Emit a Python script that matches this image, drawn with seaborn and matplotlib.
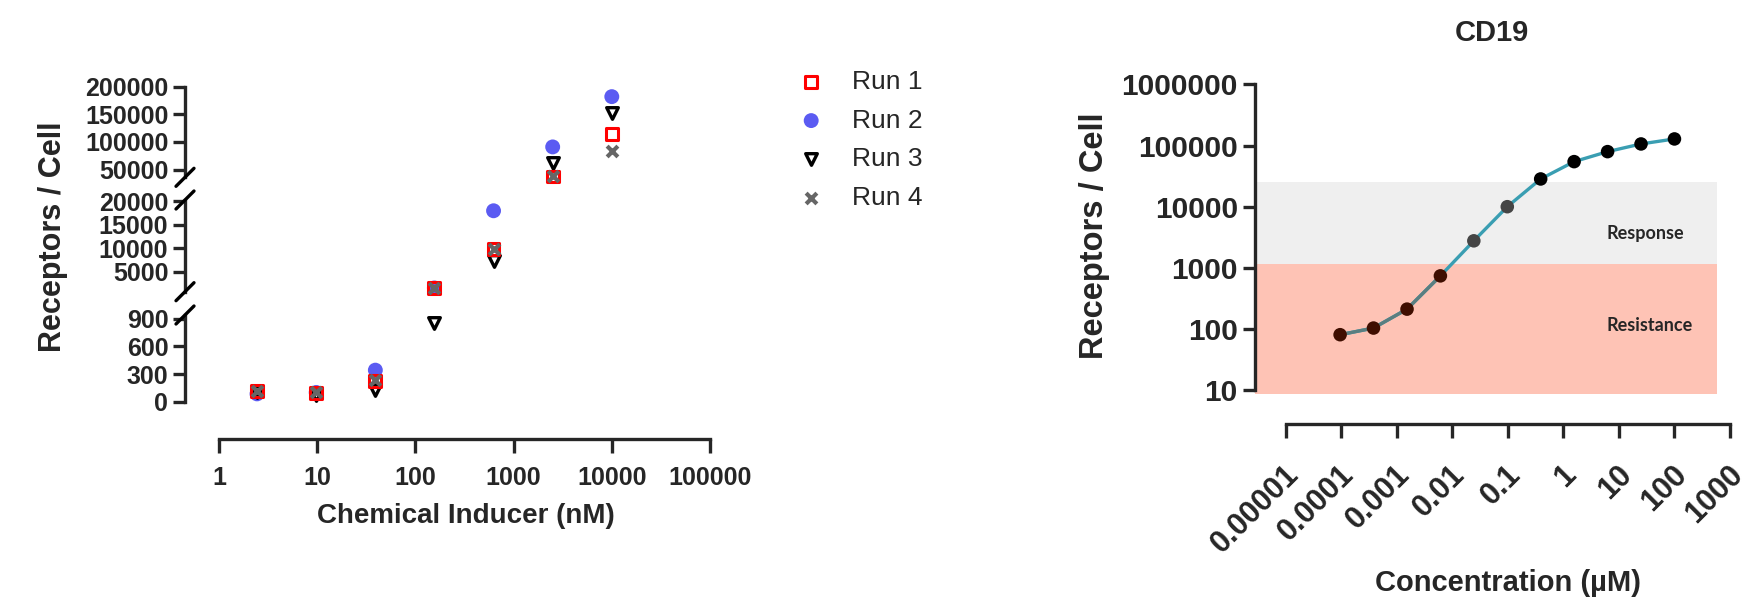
import matplotlib
matplotlib.use("Agg")
import matplotlib.pyplot as plt
from matplotlib.lines import Line2D
from matplotlib.ticker import NullLocator
from matplotlib.transforms import ScaledTranslation
import seaborn as sns
import pandas as pd

# ---- left panel: receptors per cell vs chemical inducer ----
inducer_nM = [2.44, 9.77, 39.1, 156, 625, 2500, 10000]
run1 = [115, 97, 227, 1440, 9800, 37600, 114000]
run2 = [85, 100, 342, 1500, 18000, 91000, 182000]
run3 = [110, 75, 126, 852, 7250, 61000, 152000]
run4 = [115, 100, 230, 1450, 9800, 38000, 84000]
run_names = ["Run 1", "Run 2", "Run 3", "Run 4"]

left_xticks = [1, 10, 100, 1000, 10000, 100000]
left_xticklabels = ["1", "10", "100", "1000", "10000", "100000"]
top_ticks = [50000, 100000, 150000, 200000]
mid_ticks = [5000, 10000, 15000, 20000]
bot_ticks = [0, 300, 600, 900]

# ---- right panel: CD19 dose response ----
conc_uM = [0.0000954, 0.000381, 0.00153, 0.0061, 0.0244, 0.0977, 0.39, 1.56, 6.25, 25, 100]
cd19 = [81, 104, 212, 741, 2770, 10000, 28400, 54500, 79400, 106000, 128000]
resistance_band = (8.8, 1165)
response_band = (1165, 25700)
right_xticks = [1e-5, 1e-4, 1e-3, 1e-2, 1e-1, 1, 10, 100, 1000]
right_xticklabels = ["0.00001", "0.0001", "0.001", "0.01", "0.1", "1", "10", "100", "1000"]
right_yticks = [10, 100, 1000, 10000, 100000, 1000000]
right_yticklabels = ["10", "100", "1000", "10000", "100000", "1000000"]

sns.set_style("ticks")
plt.rcParams["font.family"] = ["Liberation Sans", "DejaVu Sans"]
plt.rcParams["font.weight"] = "bold"

W, H = 1752, 601
fig = plt.figure(figsize=(W / 100, H / 100), dpi=100)


def px_axes(x0, x1, ytop, ybot):
    return fig.add_axes([x0 / W, 1 - ybot / H, (x1 - x0) / W, (ybot - ytop) / H])


LW = 2.4
styles = {
    "Run 1": dict(marker="s", s=72, facecolor="none", edgecolor="#FF0000", linewidth=2.2, zorder=4),
    "Run 2": dict(marker="o", s=115, color="#5B5BF2", edgecolor="none", zorder=2),
    "Run 3": dict(marker="v", s=70, facecolor="white", edgecolor="black", linewidth=2.4, zorder=3),
    "Run 4": dict(marker="x", s=60, color="#666666", linewidth=3, zorder=5),
}

df = pd.DataFrame({"inducer": inducer_nM * 4,
                   "receptors": run1 + run2 + run3 + run4,
                   "run": sum([[r] * len(inducer_nM) for r in run_names], [])})

ax_top = px_axes(219, 710, 86.7, 177.3)
ax_mid = px_axes(219, 710, 200, 291.7)
ax_bot = px_axes(219, 710, 315, 401.7)
segments = [(ax_top, (36000, 200000), top_ticks, 25000, 1e9),
            (ax_mid, (700, 20300), mid_ticks, 1000, 25000),
            (ax_bot, (0, 940), bot_ticks, -1, 1000)]

for ax, ylim, ticks, lo, hi in segments:
    for run in run_names:
        sub = df[(df.run == run) & (df.receptors >= lo) & (df.receptors < hi)]
        sns.scatterplot(data=sub, x="inducer", y="receptors", ax=ax, clip_on=False,
                        label=run if ax is ax_top else None, legend=False, **styles[run])
    ax.set_xscale("log")
    ax.set_xlim(1, 100000)
    ax.set_ylim(*ylim)
    ax.set_yticks(ticks)
    ax.set_yticklabels([str(t) for t in ticks])
    ax.set_xlabel("")
    ax.set_ylabel("")
    for s in ["top", "right"]:
        ax.spines[s].set_visible(False)
    ax.spines["left"].set_position(("outward", 24.5))
    ax.spines["left"].set_linewidth(LW)
    ax.tick_params(axis="y", length=9, width=LW, pad=3, labelsize=18)
    ax.xaxis.set_minor_locator(NullLocator())
    ax.patch.set_alpha(0)
    if ax is not ax_bot:
        ax.spines["bottom"].set_visible(False)
        ax.set_xticks([])

ax_bot.spines["bottom"].set_position(("outward", 27))
ax_bot.spines["bottom"].set_linewidth(LW)
ax_bot.set_xticks(left_xticks)
ax_bot.set_xticklabels(left_xticklabels)
ax_bot.tick_params(axis="x", length=10, width=LW, pad=9, labelsize=18)

# break marks on the left spine
for ax, edges in [(ax_top, ["bottom"]), (ax_mid, ["top", "bottom"]), (ax_bot, ["top"])]:
    pos = ax.get_position()
    sx = pos.x0 - 34 / W
    for e in edges:
        yy = pos.y0 if e == "bottom" else pos.y1
        fig.add_artist(Line2D([sx - 9 / W, sx + 9 / W], [yy - 9 / H, yy + 9 / H],
                              transform=fig.transFigure, color="black", lw=LW))

handles, labels = ax_top.get_legend_handles_labels()
fig.legend(handles, labels, loc="upper left", bbox_to_anchor=(798 / W, 1 - 70 / H),
           frameon=False, prop={"size": 19, "weight": "normal"}, handlelength=1.0,
           handletextpad=1.05, labelspacing=0.55, borderpad=0, borderaxespad=0)

fig.text(466 / W, 1 - 516 / H, "Chemical Inducer (nM)", ha="center", va="center",
         fontsize=20, fontweight="bold")
fig.text(53 / W, 1 - 237 / H, "Receptors / Cell", ha="center", va="center",
         rotation=90, fontsize=22, fontweight="bold")

# ---- right panel ----
ax_r = px_axes(1285.7, 1730, 84.3, 390.3)
band_x0 = -30.7 / 444.3
band_x1 = (1716.7 - 1285.7) / 444.3
ax_r.axhspan(*resistance_band, xmin=band_x0, xmax=band_x1, color="#FEC3B5", lw=0,
             zorder=0, clip_on=False)
ax_r.axhspan(*response_band, xmin=band_x0, xmax=band_x1, color="#EFEFEF", lw=0,
             zorder=0, clip_on=False)

sns.lineplot(x=conc_uM, y=cd19, ax=ax_r, color="#3A9EB2", lw=2.4, zorder=2)
sns.lineplot(x=conc_uM[:4], y=cd19[:4], ax=ax_r, color="#5A7E80", lw=2.4, zorder=2)


def zone(v):
    if v < resistance_band[1]:
        return "resistance"
    if v < response_band[1]:
        return "response"
    return "high"


zones = [zone(v) for v in cd19]
sns.scatterplot(x=conc_uM, y=cd19, hue=zones, ax=ax_r, s=95, edgecolor="none",
                palette={"resistance": "#3F0E00", "response": "#454545", "high": "#000000"},
                legend=False, zorder=3, clip_on=False)

ax_r.set_xscale("log")
ax_r.set_yscale("log")
ax_r.set_xlim(1e-5, 1e3)
ax_r.set_ylim(10, 1e6)
ax_r.set_xticks(right_xticks)
ax_r.set_xticklabels(right_xticklabels)
ax_r.set_yticks(right_yticks)
ax_r.set_yticklabels(right_yticklabels)
ax_r.xaxis.set_minor_locator(NullLocator())
ax_r.yaxis.set_minor_locator(NullLocator())
for s in ["top", "right"]:
    ax_r.spines[s].set_visible(False)
ax_r.spines["left"].set_position(("outward", 22))
ax_r.spines["bottom"].set_position(("outward", 24.3))
for s in ["left", "bottom"]:
    ax_r.spines[s].set_linewidth(LW)
ax_r.tick_params(axis="y", length=9, width=LW, pad=3.5, labelsize=21.5)
ax_r.tick_params(axis="x", length=10, width=LW, pad=23, labelsize=22, labelrotation=45)
shift = ScaledTranslation(6 / 72, 0, fig.dpi_scale_trans)
for lbl in ax_r.get_xticklabels():
    lbl.set_horizontalalignment("right")
    lbl.set_verticalalignment("center")
    lbl.set_rotation_mode("anchor")
    lbl.set_transform(lbl.get_transform() + shift)
ax_r.patch.set_alpha(0)

ax_r.text(0.721, 0.513, "Response", transform=ax_r.transAxes, ha="left", va="center",
          fontsize=13, fontweight="bold", family=["Lato", "DejaVu Sans"])
ax_r.text(0.721, 0.213, "Resistance", transform=ax_r.transAxes, ha="left", va="center",
          fontsize=13, fontweight="bold", family=["Lato", "DejaVu Sans"])

fig.text(1492 / W, 1 - 33 / H, "CD19", ha="center", va="center", fontsize=21,
         fontweight="bold")
fig.text(1508 / W, 1 - 583 / H, "Concentration (µM)", ha="center", va="center",
         fontsize=21, fontweight="bold")
fig.text(1094 / W, 1 - 236 / H, "Receptors / Cell", ha="center", va="center",
         rotation=90, fontsize=23.5, fontweight="bold")

fig.savefig("out.png", dpi=100)
